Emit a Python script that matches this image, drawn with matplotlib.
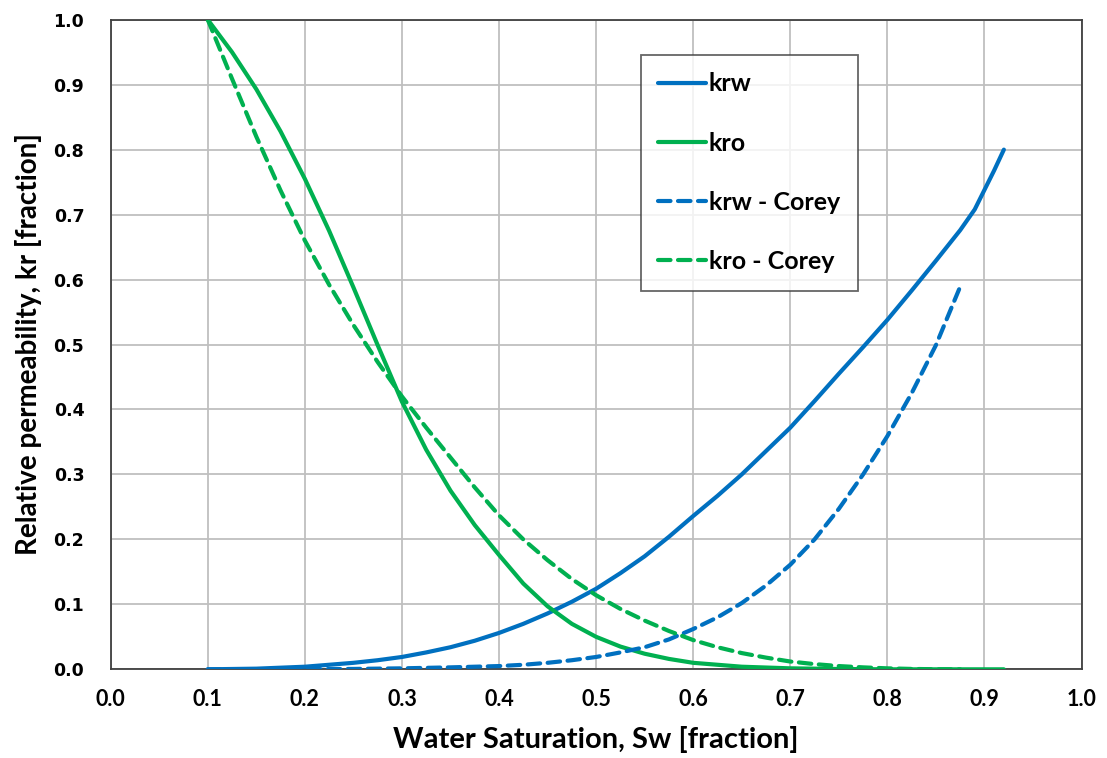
import matplotlib
matplotlib.use("Agg")
import matplotlib.pyplot as plt

# Data
sw_krw = [0.100, 0.150, 0.200, 0.225, 0.250, 0.275, 0.300, 0.325, 0.350, 0.375, 0.400,
          0.425, 0.450, 0.475, 0.500, 0.525, 0.550, 0.575, 0.600, 0.625, 0.650, 0.675,
          0.700, 0.725, 0.750, 0.775, 0.800, 0.825, 0.850, 0.875, 0.890, 0.900, 0.910, 0.920]
krw = [0.000, 0.001, 0.004, 0.007, 0.010, 0.014, 0.019, 0.026, 0.034, 0.044, 0.056,
       0.070, 0.086, 0.104, 0.124, 0.148, 0.174, 0.204, 0.236, 0.267, 0.300, 0.336,
       0.372, 0.413, 0.455, 0.496, 0.538, 0.583, 0.629, 0.676, 0.708, 0.738, 0.768, 0.800]

sw_kro = [0.100, 0.125, 0.150, 0.175, 0.200, 0.225, 0.250, 0.275, 0.300, 0.325, 0.350,
          0.375, 0.400, 0.425, 0.450, 0.475, 0.500, 0.525, 0.550, 0.575, 0.600, 0.650,
          0.700, 0.750, 0.800, 0.920]
kro = [1.000, 0.950, 0.893, 0.828, 0.755, 0.675, 0.588, 0.499, 0.412, 0.338, 0.275,
       0.222, 0.176, 0.132, 0.097, 0.070, 0.050, 0.035, 0.024, 0.016, 0.010, 0.004,
       0.0015, 0.0005, 0.000, 0.000]

sw_krw_corey = [0.100, 0.200, 0.250, 0.300, 0.350, 0.400, 0.425, 0.450, 0.475, 0.500,
                0.525, 0.550, 0.575, 0.600, 0.625, 0.650, 0.675, 0.700, 0.725, 0.750,
                0.775, 0.800, 0.825, 0.850, 0.875]
krw_corey = [0.000, 0.0002, 0.0006, 0.0015, 0.003, 0.005, 0.007, 0.010, 0.014, 0.019,
             0.026, 0.034, 0.046, 0.062, 0.080, 0.102, 0.129, 0.161, 0.200, 0.247,
             0.300, 0.359, 0.425, 0.499, 0.589]

sw_kro_corey = [0.100, 0.125, 0.150, 0.175, 0.200, 0.225, 0.250, 0.275, 0.300, 0.325,
                0.350, 0.375, 0.400, 0.425, 0.450, 0.475, 0.500, 0.525, 0.550, 0.575,
                0.600, 0.625, 0.650, 0.675, 0.700, 0.725, 0.750, 0.775, 0.800, 0.825,
                0.850, 0.875]
kro_corey = [1.000, 0.909, 0.820, 0.737, 0.660, 0.592, 0.530, 0.473, 0.420, 0.372,
             0.326, 0.280, 0.237, 0.200, 0.168, 0.139, 0.114, 0.093, 0.075, 0.059,
             0.045, 0.034, 0.025, 0.018, 0.012, 0.008, 0.005, 0.003, 0.0015, 0.0006,
             0.0001, 0.000]

tick_vals = [0.0, 0.1, 0.2, 0.3, 0.4, 0.5, 0.6, 0.7, 0.8, 0.9, 1.0]
tick_labels = ["0.0", "0.1", "0.2", "0.3", "0.4", "0.5", "0.6", "0.7", "0.8", "0.9", "1.0"]

BLUE = "#0070C0"
GREEN = "#00B050"

fig = plt.figure(figsize=(11.07, 7.58), dpi=100)
ax = fig.add_axes([0.100, 0.117, 0.877, 0.857])

lw = 3.0
dash = (0, (3.0, 1.8))
ax.plot(sw_krw, krw, color=BLUE, lw=lw, label="krw", solid_capstyle="round",
        solid_joinstyle="round", zorder=3)
ax.plot(sw_kro, kro, color=GREEN, lw=lw, label="kro", solid_capstyle="round",
        solid_joinstyle="round", zorder=3)
ax.plot(sw_krw_corey, krw_corey, color=BLUE, lw=lw, ls=dash, label="krw - Corey",
        dash_capstyle="round", zorder=3)
ax.plot(sw_kro_corey, kro_corey, color=GREEN, lw=lw, ls=dash, label="kro - Corey",
        dash_capstyle="round", zorder=3)

ax.set_xlim(0, 1.0)
ax.set_ylim(0, 1.0)
ax.set_xticks(tick_vals)
ax.set_yticks(tick_vals)
ax.set_xticklabels(tick_labels, fontfamily="Lato", fontweight="bold", fontsize=15.5)
ax.set_yticklabels(tick_labels, fontfamily="DejaVu Sans", fontweight="bold", fontsize=12.5)
ax.tick_params(axis="both", length=0)
ax.tick_params(axis="x", pad=14)
ax.tick_params(axis="y", pad=19)

ax.grid(True, color="#BFBFBF", lw=1.3, zorder=0)
ax.set_axisbelow(True)
for s in ax.spines.values():
    s.set_color("#404040")
    s.set_linewidth(1.3)

ax.set_xlabel("Water Saturation, Sw [fraction]", fontfamily="Lato", fontweight="bold",
              fontsize=21, labelpad=12)
ax.set_ylabel("Relative permeability, kr [fraction]", fontfamily="Lato", fontweight="bold",
              fontsize=20, labelpad=8)

leg = ax.legend(loc="upper left", bbox_to_anchor=(0.546, 0.946), frameon=True, fancybox=False,
                edgecolor="#404040", handlelength=1.9, handletextpad=0.12, labelspacing=1.45,
                borderpad=0.7, borderaxespad=0,
                prop={"family": "Lato", "weight": "bold", "size": 18})
leg.get_frame().set_linewidth(1.3)

fig.savefig("out.png", dpi=100, facecolor="white")
